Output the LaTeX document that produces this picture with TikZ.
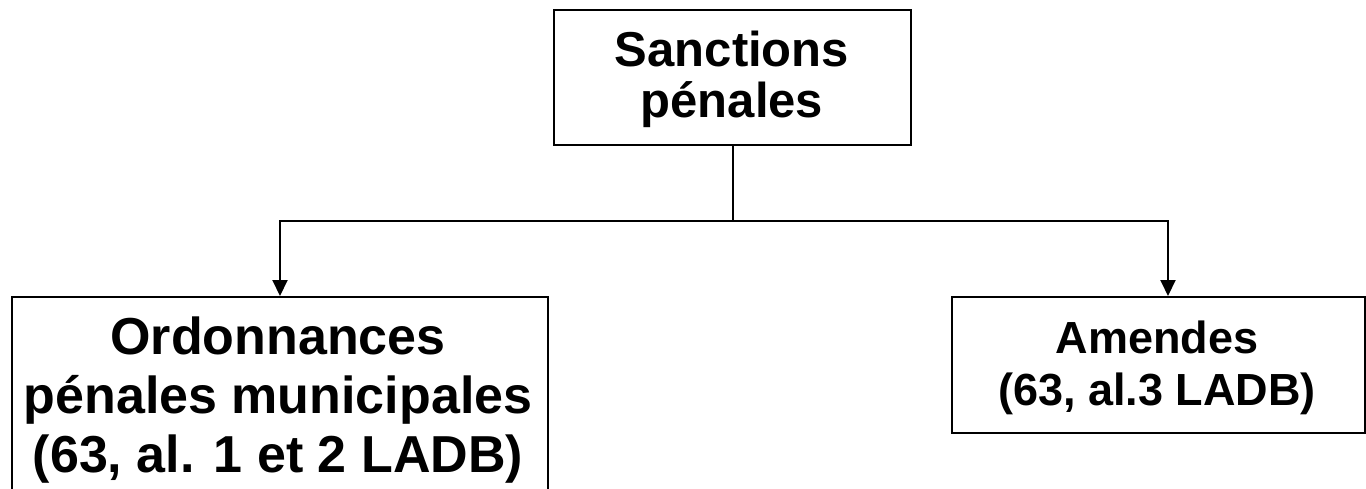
\documentclass[tikz,border=0pt]{standalone}
\usepackage{fontspec}
\setmainfont{Liberation Sans}
\usetikzlibrary{arrows.meta}
\tikzset{
  box/.style={draw=black, line width=2pt, fill=white, inner sep=0pt},
  txt/.style={anchor=base, inner sep=0pt},
  toptxt/.style={txt, font=\fontsize{49}{52}\selectfont\bfseries},
  ordtxt/.style={txt, font=\fontsize{52}{59}\selectfont\bfseries},
  amtxt/.style={txt, font=\fontsize{45}{52}\selectfont\bfseries},
  conn/.style={draw=black, line width=2pt},
  arr/.style={conn, -{Triangle[length=16pt,width=15pt]}}
}
\begin{document}
\begin{tikzpicture}[x=1pt,y=-1pt]
\useasboundingbox (0,0) rectangle (1366,488);
\clip (0,0) rectangle (1366,488);
\fill[white] (0,0) rectangle (1366,488);
% boxes
\node[box, minimum width=357pt, minimum height=135pt] (top) at (732.5,77) {};
\node[box, minimum width=536pt, minimum height=197pt] (ord) at (280,395.5) {};
\node[box, minimum width=413pt, minimum height=136pt] (am) at (1158.5,365) {};
% texts
\node[toptxt] (top1) at (732,66) {Sanctions};
\node[toptxt] (top2) at (732,117) {pénales};
\node[ordtxt] (ord1) at (278,354) {Ordonnances};
\node[ordtxt] (ord2) at (278,413) {pénales municipales};
\node[ordtxt] (ord3) at (278,472) {(63, al. 1 et 2 LADB)};
\node[amtxt] (am1) at (1157,353) {Amendes};
\node[amtxt] (am2) at (1157,405) {(63, al.3 LADB)};
% connectors
\coordinate (j) at (732.5,221);
\coordinate (jl) at (280,221);
\coordinate (jr) at (1168,221);
\draw[conn] (top.south) -- (j);
\draw[arr] (j) -- (jl) -- (ord.north);
\draw[arr] (j) -- (jr) -- (jr |- am.north);
\end{tikzpicture}
\end{document}
